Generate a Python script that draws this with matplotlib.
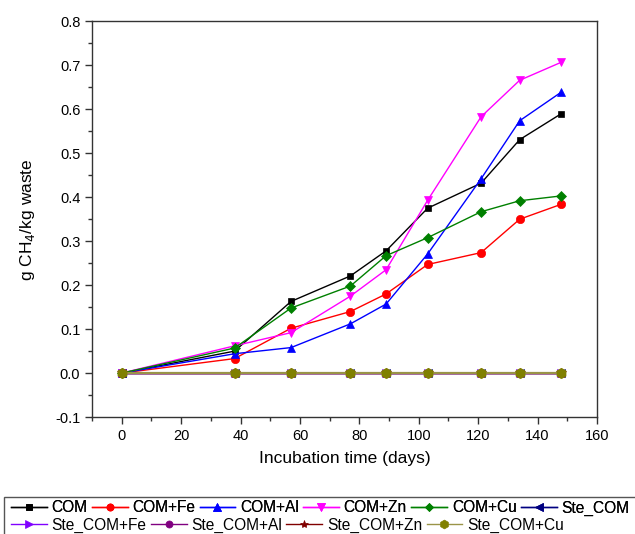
import matplotlib
matplotlib.use("Agg")
import matplotlib.pyplot as plt
from matplotlib.ticker import MultipleLocator, FormatStrFormatter
from matplotlib.patches import Rectangle

plt.rcParams['font.family'] = ['Liberation Sans', 'DejaVu Sans']

days = [0, 38, 57, 77, 89, 103, 121, 134, 148]
com = [0, 0.050, 0.163, 0.221, 0.278, 0.375, 0.432, 0.531, 0.590]
com_fe = [0, 0.033, 0.102, 0.140, 0.180, 0.247, 0.274, 0.350, 0.384]
com_al = [0, 0.044, 0.058, 0.112, 0.157, 0.271, 0.442, 0.574, 0.639]
com_zn = [0, 0.062, 0.092, 0.175, 0.235, 0.393, 0.583, 0.666, 0.707]
com_cu = [0, 0.057, 0.148, 0.198, 0.267, 0.308, 0.367, 0.392, 0.403]
ste_com = [0, 0, 0, 0, 0, 0, 0, 0, 0]
ste_fe = [0, 0, 0, 0, 0, 0, 0, 0, 0]
ste_al = [0, 0, 0, 0, 0, 0, 0, 0, 0]
ste_zn = [0, 0, 0, 0, 0, 0, 0, 0, 0]
ste_cu = [0, 0, 0, 0, 0, 0, 0, 0, 0]

labels = ["COM", "COM+Fe", "COM+Al", "COM+Zn", "COM+Cu", "Ste_COM",
          "Ste_COM+Fe", "Ste_COM+Al", "Ste_COM+Zn", "Ste_COM+Cu"]
series = [com, com_fe, com_al, com_zn, com_cu, ste_com, ste_fe, ste_al, ste_zn, ste_cu]
colors = ["#000000", "#FF0000", "#0000FF", "#FF00FF", "#008000", "#000080",
          "#8000FF", "#800080", "#800000", "#808000"]
markers = ["s", "o", "^", "v", "D", "<", ">", "o", "*", "h"]
msizes = [5, 6, 6, 6, 5, 6, 6, 6, 7, 7.5]
lws = [1.0, 1.0, 1.0, 1.0, 1.0, 1.0, 1.0, 1.0, 1.0, 1.6]

fig = plt.figure(figsize=(6.35, 5.34), dpi=100)
ax = fig.add_axes([0.145, 0.219, 0.795, 0.741])

handles = []
for y, lab, c, m, ms, lw in zip(series, labels, colors, markers, msizes, lws):
    h, = ax.plot(days, y, color=c, marker=m, markersize=ms, lw=lw,
                 label=lab, markeredgewidth=0.5)
    handles.append(h)
handles[-1].set_color("#9a9448")
handles[-1].set_markerfacecolor("#808000")
handles[-1].set_markeredgecolor("#808000")

ax.set_xlim(-10, 160)
ax.set_ylim(-0.1, 0.8)
ax.xaxis.set_major_locator(MultipleLocator(20))
ax.xaxis.set_minor_locator(MultipleLocator(10))
ax.yaxis.set_major_locator(MultipleLocator(0.1))
ax.yaxis.set_minor_locator(MultipleLocator(0.05))
ax.yaxis.set_major_formatter(FormatStrFormatter('%.1f'))
ax.tick_params(which='both', direction='out', top=False, right=False,
               labelsize=10.5, color='#333333')
ax.tick_params(which='major', length=5, width=1)
ax.tick_params(which='minor', length=3, width=1)
for s in ax.spines.values():
    s.set_linewidth(1.0)
    s.set_color('#333333')

ax.set_xlabel("Incubation time (days)", fontsize=12.5, labelpad=6)
ax.set_ylabel("g CH$_4$/kg waste", fontsize=12.5, labelpad=13)

# legend frame
fig.patches.append(Rectangle((4 / 635, -0.05), 1.0, 1 - 497 / 534 + 0.05,
                             transform=fig.transFigure, fill=False,
                             edgecolor='#555555', lw=1.0))
common = dict(loc='center left', frameon=False, fontsize=11.2, handlelength=2.3,
              handletextpad=0.3, columnspacing=0.28, borderaxespad=0,
              borderpad=0, markerscale=0.85)
leg1 = fig.legend(handles=handles[:6], labels=labels[:6], ncol=6,
                  bbox_to_anchor=(11 / 635, 1 - 508 / 534), **common)
leg2 = fig.legend(handles=handles[6:], labels=labels[6:], ncol=4,
                  bbox_to_anchor=(11 / 635, 1 - 525 / 534), **common)
for ln in leg2.get_lines():
    ln.set_linewidth(1.0)
fig.add_artist(leg1)

fig.savefig("out.png", dpi=100)
